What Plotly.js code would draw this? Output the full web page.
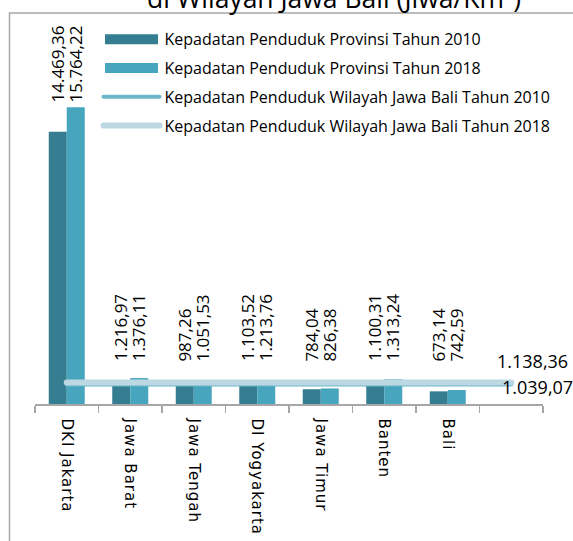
<!DOCTYPE html>
<html><head><meta charset="utf-8">
<script src="https://cdn.plot.ly/plotly-3.0.1.min.js"></script>
<style>
body{margin:0;background:#fff}
#chart{width:573px;height:541px}
.xtick text{letter-spacing:1px}
.scatterlayer .js-line{stroke-linecap:round}
.legendlines path{stroke-linecap:round}
</style></head><body><div id="chart"></div>
<script>
// ---- data ----
const provinces = ['DKI Jakarta','Jawa Barat','Jawa Tengah','DI Yogyakarta','Jawa Timur','Banten','Bali'];
const spareCategory = '\u00a0';
const density2010 = [14469.36, 1216.97, 987.26, 1103.52, 784.04, 1100.31, 673.14];
const density2018 = [15764.22, 1376.11, 1051.53, 1213.76, 826.38, 1313.24, 742.59];
const region2010 = 1039.07;
const region2018 = 1138.36;
const seriesNames = [
  'Kepadatan Penduduk Provinsi Tahun 2010',
  'Kepadatan Penduduk Provinsi Tahun 2018',
  'Kepadatan Penduduk Wilayah Jawa Bali Tahun 2010',
  'Kepadatan Penduduk Wilayah Jawa Bali Tahun 2018'
];
const titleText = 'di Wilayah Jawa Bali (Jiwa/Km\u00b2)';
const LABEL_FLOOR = 2000; // data units: keeps small-bar labels above the average lines

// ---- helpers ----
function fmtID(v){
  const parts = v.toFixed(2).split('.');
  parts[0] = parts[0].replace(/\B(?=(\d{3})+(?!\d))/g, '.');
  return parts[0] + ',' + parts[1];
}
const cats = provinces.concat([spareCategory]);
const C2010 = '#357d91', C2018 = '#47a5bd', L2010 = '#6bb6c9', L2018 = '#bcd8e3';
const barFont = {family:'Open Sans', size:17, color:'#000'};
const lineFont = {family:'Open Sans', size:18, color:'#000'};

const traces = [
  {type:'bar', name:seriesNames[0], x:provinces, y:density2010, marker:{color:C2010}, legendgroup:'a', hoverinfo:'none'},
  {type:'bar', name:seriesNames[1], x:provinces, y:density2018, marker:{color:C2018}, legendgroup:'b', hoverinfo:'none'},
  {type:'scatter', mode:'lines', name:seriesNames[2], x:[cats[0], cats[cats.length-1]], y:[region2010, region2010], line:{color:L2010, width:4}, legendgroup:'c', hoverinfo:'none'},
  {type:'scatter', mode:'lines', name:seriesNames[3], x:[cats[0], cats[cats.length-1]], y:[region2018, region2018], line:{color:L2018, width:6}, legendgroup:'d', hoverinfo:'none'}
];

const annotations = [];
provinces.forEach((p, i) => {
  const top = Math.max(density2010[i], density2018[i], LABEL_FLOOR);
  annotations.push({x:p, y:top, xref:'x', yref:'y', text:fmtID(density2010[i]), showarrow:false, textangle:-90, xanchor:'center', yanchor:'bottom', xshift:-9, yshift:4, font:barFont, borderpad:0});
  annotations.push({x:p, y:top, xref:'x', yref:'y', text:fmtID(density2018[i]), showarrow:false, textangle:-90, xanchor:'center', yanchor:'bottom', xshift:9, yshift:4, font:barFont, borderpad:0});
});
const lastCat = cats[cats.length-1];
annotations.push({x:lastCat, y:region2018, xref:'x', yref:'y', text:fmtID(region2018), showarrow:false, xanchor:'left', yanchor:'middle', xshift:-15, yshift:22, font:lineFont, borderpad:0});
annotations.push({x:lastCat, y:region2010, xref:'x', yref:'y', text:fmtID(region2010), showarrow:false, xanchor:'left', yanchor:'middle', xshift:-10, yshift:-3, font:lineFont, borderpad:0});

const layout = {
  width:573, height:541,
  margin:{l:35, r:30, t:20, b:137, autoexpand:false},
  paper_bgcolor:'#fff', plot_bgcolor:'rgba(0,0,0,0)',
  barmode:'group', bargap:0.433, bargroupgap:0,
  showlegend:true,
  legend:{x:0.125, y:0.994, xanchor:'left', yanchor:'top', bgcolor:'rgba(0,0,0,0)', font:{family:'Open Sans', size:16, color:'#000'}, itemwidth:56, tracegroupgap:5, traceorder:'grouped'},
  title:{text:titleText, font:{family:'Open Sans', size:26.5, color:'#000'}, x:334/573, xanchor:'center', xref:'container', yref:'container', y:1-8/541, yanchor:'bottom'},
  xaxis:{type:'category', categoryorder:'array', categoryarray:cats, range:[-0.5, cats.length-0.5], tickson:'boundaries', ticks:'outside', ticklen:7, tickwidth:1.5, tickcolor:'#a6a6a6', showline:true, linecolor:'#a6a6a6', linewidth:1.5, tickangle:90, tickfont:{family:'DejaVu Sans', size:15, color:'#000'}, showgrid:false, zeroline:false, fixedrange:true, ticklabelstandoff:10},
  yaxis:{range:[0, 20400], visible:false, fixedrange:true},
  annotations:annotations,
  shapes:[{type:'rect', xref:'paper', yref:'paper', x0:(9.5-35)/508, x1:2, y0:-2, y1:(404-13)/384, line:{color:'#a6a6a6', width:1.5}, fillcolor:'rgba(0,0,0,0)', layer:'below'}]
};

function widenSwatches(){
  // widen the bar legend swatches into long rectangles like the reference
  document.querySelectorAll('g.legendpoints path').forEach(p => {
    const d = p.getAttribute('d') || '';
    if (d.indexOf('M6,6') === 0 || p.classList.contains('legendbar')) {
      p.setAttribute('d', 'M26.5,5H-26.5V-5H26.5Z');
    }
  });
}
const gdEl = document.getElementById('chart');
Plotly.newPlot(gdEl, traces, layout, {displayModeBar:false, staticPlot:true}).then(() => {
  widenSwatches();
  setTimeout(widenSwatches, 50);
  gdEl.on && gdEl.on('plotly_afterplot', widenSwatches);
});
</script></body></html>
